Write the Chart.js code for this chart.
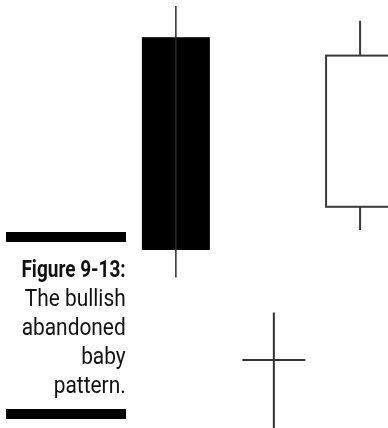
<!DOCTYPE html>
<html>
<head>
<meta charset="utf-8">
<script src="https://cdn.jsdelivr.net/npm/chart.js@4"></script>
<style>
  html, body { margin: 0; padding: 0; background: #fff; }
  #wrap { position: relative; width: 388px; height: 428px; overflow: hidden; }
  #chart { position: absolute; left: 0; top: 0; }
  .rule { position: absolute; left: 6px; width: 120px; height: 10px; background: #000; }
  #caption {
    position: absolute; right: 262px; top: 255px;
    text-align: right; white-space: nowrap; color: #111;
    font-family: Roboto, "Liberation Sans", sans-serif;
    font-size: 24px; line-height: 29px;
    transform: scaleX(0.87); transform-origin: right top;
  }
  #caption b { font-weight: bold; display: inline-block; transform: scaleX(0.91); transform-origin: right center; }
</style>
</head>
<body>
<div id="wrap">
  <canvas id="chart" width="388" height="428"></canvas>
  <div class="rule" style="top:232px"></div>
  <div id="caption"><b>Figure 9-13:</b><br>The bullish<br>abandoned<br>baby<br>pattern.</div>
  <div class="rule" style="top:409px"></div>
</div>
<script>
// candles: bearish, doji, bullish
const positions = [3.59, 5.59, 7.35];
const opens = [97.7, 17, 55.3];
const highs = [105.5, 28.9, 101.8];
const lows = [37.6, 0, 49.5];
const closes = [44.5, 17, 93.1];

const BODY_W = 68;
const DOJI_W = 63;

// draws the candles off the chart's own scales
const candlePlugin = {
  id: "candles",
  afterDatasetsDraw(chart) {
    const ctx = chart.ctx;
    const xs = chart.scales.x;
    const ys = chart.scales.y;

    positions.forEach((pos, i) => {
      const xp = xs.getPixelForValue(pos);
      const yo = ys.getPixelForValue(opens[i]);
      const yc = ys.getPixelForValue(closes[i]);
      const yh = ys.getPixelForValue(highs[i]);
      const yl = ys.getPixelForValue(lows[i]);
      const top = Math.min(yo, yc);
      const bot = Math.max(yo, yc);

      ctx.save();
      if (opens[i] > closes[i]) {
        // black body, wick shows through
        ctx.fillStyle = "#000";
        ctx.fillRect(xp - BODY_W / 2, top, BODY_W, bot - top);
        ctx.strokeStyle = "#2a2a2a";
        ctx.lineWidth = 1.5;
        ctx.beginPath();
        ctx.moveTo(xp, yh);
        ctx.lineTo(xp, yl);
        ctx.stroke();
      } else if (opens[i] < closes[i]) {
        ctx.strokeStyle = "#3a3a3a";
        ctx.lineWidth = 2;
        ctx.beginPath();
        ctx.moveTo(xp, yh);
        ctx.lineTo(xp, top);
        ctx.moveTo(xp, bot);
        ctx.lineTo(xp, yl);
        ctx.stroke();
        ctx.fillStyle = "#fff";
        ctx.fillRect(xp - BODY_W / 2, top, BODY_W, bot - top);
        ctx.strokeRect(xp - BODY_W / 2, top, BODY_W, bot - top);
      } else {
        // doji cross
        ctx.strokeStyle = "#333";
        ctx.lineWidth = 2;
        ctx.beginPath();
        ctx.moveTo(xp, yh);
        ctx.lineTo(xp, yl);
        ctx.moveTo(xp - DOJI_W / 2, yo);
        ctx.lineTo(xp + DOJI_W / 2, yo);
        ctx.stroke();
      }
      ctx.restore();
    });
  },
};

new Chart(document.getElementById("chart"), {
  type: "scatter",
  data: {
    datasets: [
      {
        data: positions.map((p, i) => ({ x: p, y: highs[i] })),
        pointRadius: 0,
        showLine: false,
      },
    ],
  },
  options: {
    responsive: false,
    animation: false,
    layout: { padding: 0 },
    plugins: { legend: { display: false }, tooltip: { enabled: false } },
    scales: {
      x: { type: "linear", min: 0, max: 7.92, display: false },
      y: { type: "linear", min: 0, max: 107, display: false },
    },
  },
  plugins: [candlePlugin],
});
</script>
</body>
</html>
